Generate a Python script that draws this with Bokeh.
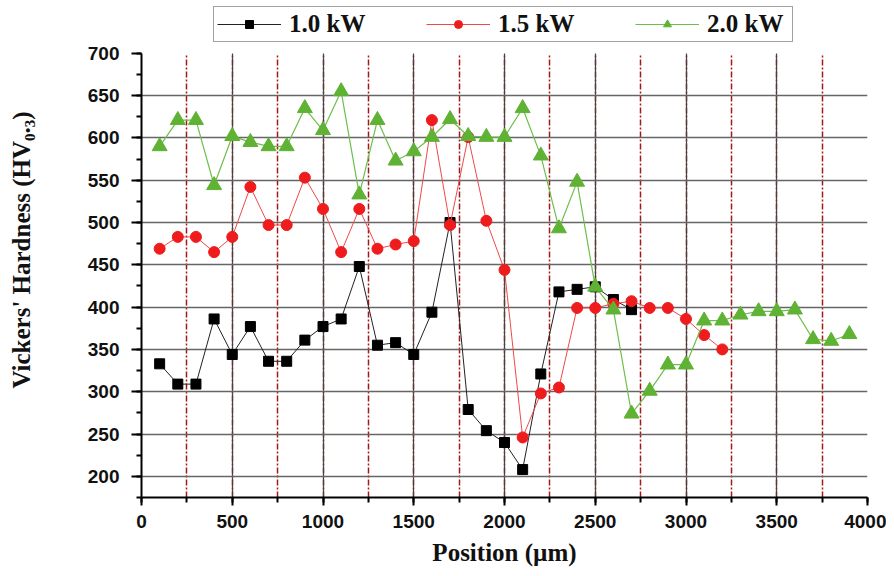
from bokeh.plotting import figure
from bokeh.models import Range1d, SingleIntervalTicker, Legend, LegendItem
from bokeh.embed import file_html
from bokeh.resources import INLINE

# ---- data ----
pos_10 = [100, 200, 300, 400, 500, 600, 700, 800, 900, 1000, 1100, 1200, 1300, 1400,
          1500, 1600, 1700, 1800, 1900, 2000, 2100, 2200, 2300, 2400, 2500, 2600, 2700]
hv_10 = [333, 309, 309, 386, 344, 377, 336, 336, 361, 377, 386, 448, 355, 358,
         344, 394, 500, 279, 254, 240, 208, 321, 418, 421, 424, 409, 397]

pos_15 = [100, 200, 300, 400, 500, 600, 700, 800, 900, 1000, 1100, 1200, 1300, 1400,
          1500, 1600, 1700, 1800, 1900, 2000, 2100, 2200, 2300, 2400, 2500, 2600,
          2700, 2800, 2900, 3000, 3100, 3200]
hv_15 = [469, 483, 483, 465, 483, 542, 497, 497, 553, 516, 465, 516, 469, 474,
         478, 621, 497, 601, 502, 444, 246, 298, 305, 399, 399, 404,
         407, 399, 399, 386, 367, 350]

pos_20 = [100, 200, 300, 400, 500, 600, 700, 800, 900, 1000, 1100, 1200, 1300, 1400,
          1500, 1600, 1700, 1800, 1900, 2000, 2100, 2200, 2300, 2400, 2500, 2600,
          2700, 2800, 2900, 3000, 3100, 3200, 3300, 3400, 3500, 3600, 3700, 3800, 3900]
hv_20 = [590, 621, 621, 544, 602, 595, 590, 590, 635, 609, 655, 533, 621, 573,
         584, 601, 622, 602, 601, 601, 635, 579, 493, 548, 424, 397,
         274, 301, 332, 332, 384, 384, 391, 395, 395, 397, 362, 360, 368]

labels = ["1.0 kW", "1.5 kW", "2.0 kW"]

Y_MIN, Y_MAX = 175, 700

p = figure(width=886, height=568, output_backend="svg", toolbar_location=None,
           x_range=Range1d(0, 4000), y_range=Range1d(Y_MIN, 760),
           min_border_left=141, min_border_right=19, min_border_top=2,
           min_border_bottom=71)
p.outline_line_color = None
p.background_fill_color = "white"

xt = SingleIntervalTicker(interval=500, num_minor_ticks=2)
yt = SingleIntervalTicker(interval=50, num_minor_ticks=2)
p.xaxis.ticker = xt
p.yaxis.ticker = yt
p.xgrid.ticker = xt
p.ygrid.ticker = yt
p.yaxis.bounds = (Y_MIN, Y_MAX)
p.xgrid.cross_bounds = (Y_MIN, Y_MAX)
p.ygrid.bounds = (Y_MIN, Y_MAX - 20)

# grids
p.xgrid.grid_line_color = "#444444"
p.xgrid.grid_line_width = 1.2
p.xgrid.minor_grid_line_color = "#a01818"
p.xgrid.minor_grid_line_width = 1.5
p.xgrid.minor_grid_line_dash = "6 2 2 2"
p.ygrid.grid_line_color = "#666666"
p.ygrid.grid_line_width = 1.5

# axes
for ax in (p.xaxis[0], p.yaxis[0]):
    ax.axis_line_width = 2
    ax.axis_line_color = "black"
    ax.major_tick_line_width = 2
    ax.minor_tick_line_width = 2
    ax.major_tick_in = 0
    ax.minor_tick_in = 0
    ax.major_label_text_font = "Liberation Sans"
    ax.major_label_text_font_style = "bold"
    ax.major_label_text_font_size = "19px"
    ax.major_label_text_color = "#111111"
    ax.axis_label_text_font = "Liberation Serif"
    ax.axis_label_text_font_style = "bold"
    ax.axis_label_text_font_size = "25px"
    ax.axis_label_text_color = "#111111"

p.xaxis.major_tick_out = 8
p.xaxis.minor_tick_out = 5
p.xaxis.major_label_standoff = 9
p.xaxis.axis_label = "Position (\u00b5m)"
p.xaxis.axis_label_standoff = 8

p.yaxis.major_tick_out = 10
p.yaxis.minor_tick_out = 5
p.yaxis.major_label_standoff = 12
p.yaxis.axis_label = "Vickers' Hardness (HV\u2080.\u2083)"
p.yaxis.axis_label_standoff = 50

# series
l1 = p.line(pos_10, hv_10, line_color="#222222", line_width=1)
m1 = p.scatter(pos_10, hv_10, marker="square", size=10, fill_color="black", line_color="black")
l2 = p.line(pos_15, hv_15, line_color="#f04848", line_width=1)
m2 = p.scatter(pos_15, hv_15, marker="circle", size=11, fill_color="#ee1c1c", line_color="#ee1c1c")
l3 = p.line(pos_20, hv_20, line_color="#6cbf4a", line_width=1.2)
m3 = p.scatter(pos_20, hv_20, marker="triangle", size=15, fill_color="#5fb233", line_color="#5fb233")

legend = Legend(items=[LegendItem(label=labels[0], renderers=[l1, m1]),
                       LegendItem(label=labels[1], renderers=[l2, m2]),
                       LegendItem(label=labels[2], renderers=[l3, m3])],
                orientation="horizontal", location=(72, 455),
                glyph_width=64, glyph_height=20, label_height=20, label_width=82,
                label_standoff=8, spacing=55, padding=3, margin=0,
                label_text_font="Liberation Serif", label_text_font_style="bold",
                label_text_font_size="25px", label_text_color="#111111",
                border_line_color="#444444", border_line_width=1.5,
                background_fill_color="white", background_fill_alpha=1)
p.add_layout(legend, "center")

open("out.html", "w").write(file_html(p, INLINE))
